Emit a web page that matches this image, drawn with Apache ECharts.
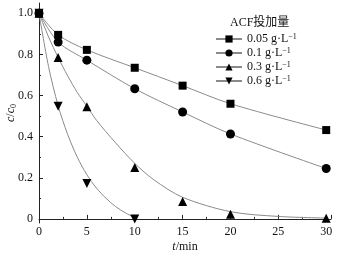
<!DOCTYPE html>
<html>
<head>
<meta charset="utf-8">
<script src="https://cdn.jsdelivr.net/npm/echarts@6/dist/echarts.min.js"></script>
<style>
  html, body {margin: 0; padding: 0; background: #fff;}
  #main {width: 340px; height: 255px;}
</style>
</head>
<body>
<div id="main"></div>
<script>
// measured points
const tPts = [0, 2, 5, 10, 15, 20, 30];
const p005 = [1.0, 0.895, 0.822, 0.735, 0.648, 0.56, 0.432];
const p01 = [1.0, 0.86, 0.772, 0.633, 0.52, 0.413, 0.245];
const p03 = [1.0, 0.785, 0.545, 0.25, 0.084, 0.023, 0.003];
const tPts06 = [0, 2, 5, 10];
const p06 = [1.0, 0.548, 0.172, 0.0];

// fitted curves
const tFit005 = [0, 2, 5, 10, 15, 20, 30];
const fit005 = [1.0, 0.895, 0.822, 0.735, 0.648, 0.56, 0.432];
const tFit01 = [0, 2, 5, 10, 15, 20, 30];
const fit01 = [1.0, 0.86, 0.772, 0.633, 0.52, 0.413, 0.245];
const tFit03 = [0, 1, 2, 3, 4, 5, 6, 8, 10, 12, 15, 20, 25, 30];
const fit03 = [1.0, 0.885, 0.785, 0.695, 0.615, 0.548, 0.48, 0.37, 0.27, 0.19, 0.105, 0.035, 0.012, 0.004];
const tFit06 = [0, 1, 2, 3, 4, 5, 6, 7, 8, 9, 10];
const fit06 = [1.0, 0.74, 0.55, 0.41, 0.30, 0.215, 0.15, 0.10, 0.06, 0.03, 0.005];

const names = ['0.05', '0.1', '0.3', '0.6'];
const yTicks = [0, 0.2, 0.4, 0.6, 0.8, 1.0];
const yMinor = [0.1, 0.3, 0.5, 0.7, 0.9];

const serif = 'Liberation Serif';
const downTri = 'path://M0,0 L10,0 L5,9 Z';
const symbols = ['rect', 'circle', 'triangle', downTri];
const sizes = [8, 9, 9, 9];

function zip(xs, ys) {
  return xs.map((x, i) => [x, ys[i]]);
}

const fitData = [zip(tFit005, fit005), zip(tFit01, fit01), zip(tFit03, fit03), zip(tFit06, fit06)];
const ptData = [zip(tPts, p005), zip(tPts, p01), zip(tPts, p03), zip(tPts06, p06)];

const chart = echarts.init(document.getElementById('main'));

let series = [];
names.forEach((n, i) => {
  series.push({
    type: 'line',
    name: n,
    data: fitData[i],
    smooth: 0.3,
    symbol: symbols[i],
    symbolSize: sizes[i],
    showSymbol: false,
    lineStyle: {color: '#8a8a8a', width: 1},
    itemStyle: {color: '#000'},
    silent: true,
    z: 2
  });
});
names.forEach((n, i) => {
  series.push({
    type: 'scatter',
    name: 'pt' + n,
    data: ptData[i],
    symbol: symbols[i],
    symbolSize: sizes[i],
    itemStyle: {color: '#000', opacity: 1},
    z: 3 + (3 - i)
  });
});

const option = {
  animation: false,
  textStyle: {fontFamily: serif},
  grid: {left: 39, right: 9, top: 3, bottom: 32, outerBoundsMode: 'none', containLabel: false},
  title: {
    text: 'ACF投加量',
    left: 225,
    top: 12,
    textStyle: {fontFamily: serif + ', Noto Sans CJK SC', fontSize: 12, fontWeight: 'normal', color: '#111'}
  },
  legend: {
    data: names,
    orient: 'vertical',
    left: 215,
    top: 33,
    padding: 0,
    itemWidth: 26,
    itemHeight: 9,
    itemGap: 1,
    formatter: n => '{a|' + n + ' g·L}{s|−1}',
    textStyle: {
      fontFamily: serif,
      fontSize: 12,
      color: '#111',
      lineHeight: 12,
      rich: {
        a: {fontFamily: serif, fontSize: 12, color: '#111', lineHeight: 12},
        s: {fontFamily: serif, fontSize: 8, color: '#111', verticalAlign: 'top', lineHeight: 12, padding: [0, 0, 5, 0]}
      }
    }
  },
  xAxis: {
    type: 'value',
    min: 0,
    max: 30.5,
    interval: 5,
    name: '{i|t}/min',
    nameLocation: 'middle',
    nameGap: 18,
    nameMoveOverlap: false,
    nameTextStyle: {
      fontFamily: serif, fontSize: 12, color: '#111',
      rich: {i: {fontFamily: serif, fontSize: 12, fontStyle: 'italic', color: '#111'}}
    },
    axisLine: {lineStyle: {color: '#222', width: 1}},
    axisTick: {inside: true, length: 4, lineStyle: {color: '#222'}},
    minorTick: {show: true, splitNumber: 2, length: 2, lineStyle: {color: '#222'}},
    axisLabel: {
      fontFamily: serif, fontSize: 12, color: '#111', margin: 3,
      customValues: [0, 5, 10, 15, 20, 25, 30]
    },
    splitLine: {show: false}
  },
  yAxis: [
    {
      type: 'value',
      min: -0.02,
      max: 1.05,
      name: '{i|c}/{i|c}{s|0}',
      nameLocation: 'middle',
      nameGap: 21,
      nameMoveOverlap: false,
      nameRotate: 90,
      nameTextStyle: {
        fontFamily: serif, fontSize: 12, color: '#111',
        rich: {
          i: {fontFamily: serif, fontSize: 12, fontStyle: 'italic', color: '#111'},
          s: {fontFamily: serif, fontSize: 8, color: '#111', verticalAlign: 'bottom', padding: [6, 0, 0, 0]}
        }
      },
      axisLine: {show: true, lineStyle: {color: '#222', width: 1}},
      axisTick: {show: true, inside: true, length: 4, customValues: yTicks, lineStyle: {color: '#222'}},
      axisLabel: {
        fontFamily: serif, fontSize: 12, color: '#111', margin: 6,
        customValues: yTicks,
        formatter: v => v === 0 ? '0' : v.toFixed(1)
      },
      splitLine: {show: false}
    },
    {
      type: 'value',
      position: 'left',
      min: -0.02,
      max: 1.05,
      axisLine: {show: false},
      axisTick: {show: true, inside: true, length: 2, customValues: yMinor, lineStyle: {color: '#222'}},
      axisLabel: {show: false},
      splitLine: {show: false}
    }
  ],
  series: series
};

chart.setOption(option);
</script>
</body>
</html>
